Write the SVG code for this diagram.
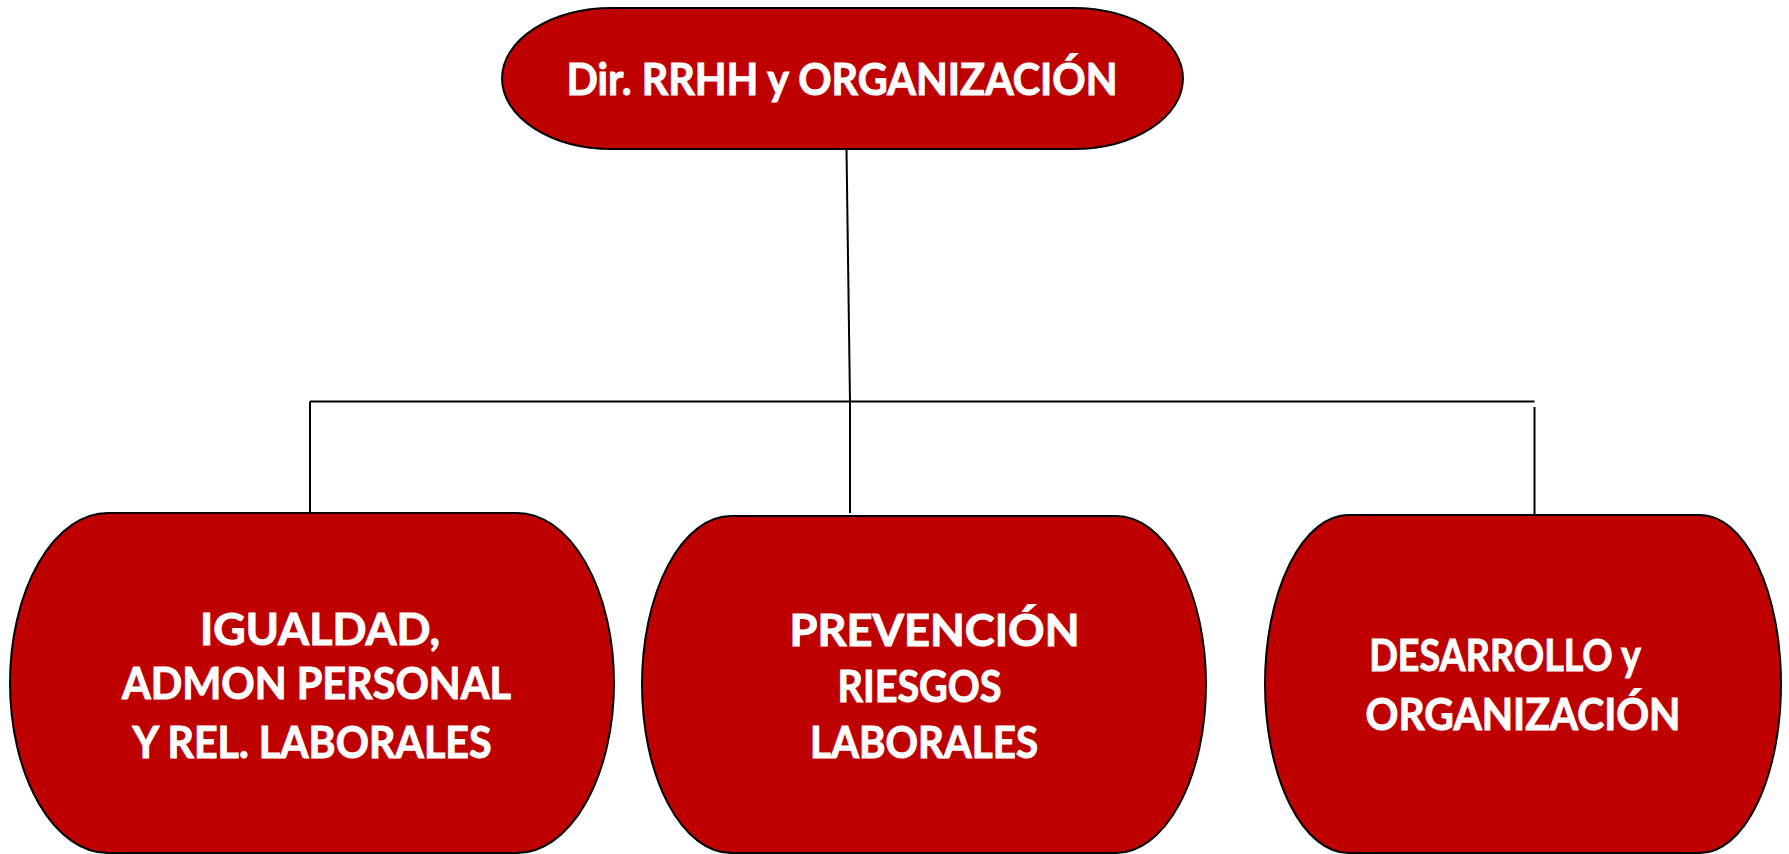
<svg xmlns="http://www.w3.org/2000/svg" width="1789" height="854" viewBox="0 0 1789 854">
<style>
.node{fill:#BE0000;stroke:#000;stroke-width:2}
.lbl{font-family:Lato,"Open Sans","Liberation Sans",sans-serif;font-weight:bold;font-size:44px;fill:#fff;stroke:#fff;stroke-width:1;text-anchor:middle}
.conn{stroke:#000;stroke-width:2;fill:none}
</style>
<rect width="1789" height="854" fill="#fff"/>
<g id="connectors">
<line class="conn" x1="846.5" y1="149" x2="850" y2="401.5"/>
<line class="conn" x1="850" y1="401.5" x2="850" y2="513"/>
<line class="conn" x1="310" y1="401.5" x2="1534.5" y2="401.5"/>
<line class="conn" x1="310" y1="401.5" x2="310" y2="513"/>
<line class="conn" x1="1534.5" y1="407" x2="1534.5" y2="517"/>
</g>
<g id="node-top">
<path class="node" d="M612,8 H1073 A110,70.5 0 0 1 1073,149 H612 A110,70.5 0 0 1 612,8 Z"/>
<text class="lbl" x="842" y="95" textLength="551" lengthAdjust="spacingAndGlyphs">Dir. RRHH y ORGANIZACIÓN</text>
</g>
<g id="node-igualdad">
<path class="node" d="M108,513 H517 A97,170 0 0 1 517,853 H108 A98,170 0 0 1 108,513 Z"/>
<text class="lbl" x="320" y="645" textLength="240" lengthAdjust="spacingAndGlyphs">IGUALDAD,</text>
<text class="lbl" x="316.5" y="699" textLength="389" lengthAdjust="spacingAndGlyphs">ADMON PERSONAL</text>
<text class="lbl" x="312" y="757.5" textLength="359" lengthAdjust="spacingAndGlyphs">Y REL. LABORALES</text>
</g>
<g id="node-prevencion">
<path class="node" d="M731,516 H1116 A90,168.5 0 0 1 1116,853 H731 A89,168.5 0 0 1 731,516 Z"/>
<text class="lbl" x="934.5" y="646" textLength="290" lengthAdjust="spacingAndGlyphs">PREVENCIÓN</text>
<text class="lbl" x="919.5" y="701.5" textLength="164" lengthAdjust="spacingAndGlyphs">RIESGOS</text>
<text class="lbl" x="924" y="757.5" textLength="228" lengthAdjust="spacingAndGlyphs">LABORALES</text>
</g>
<g id="node-desarrollo">
<path class="node" d="M1348.5,515 H1700 A81,169 0 0 1 1700,853 H1348.5 A83.5,169 0 0 1 1348.5,515 Z"/>
<text class="lbl" x="1505" y="671" textLength="271.5" lengthAdjust="spacingAndGlyphs">DESARROLLO y</text>
<text class="lbl" x="1523" y="730" textLength="315" lengthAdjust="spacingAndGlyphs">ORGANIZACIÓN</text>
</g>
</svg>
